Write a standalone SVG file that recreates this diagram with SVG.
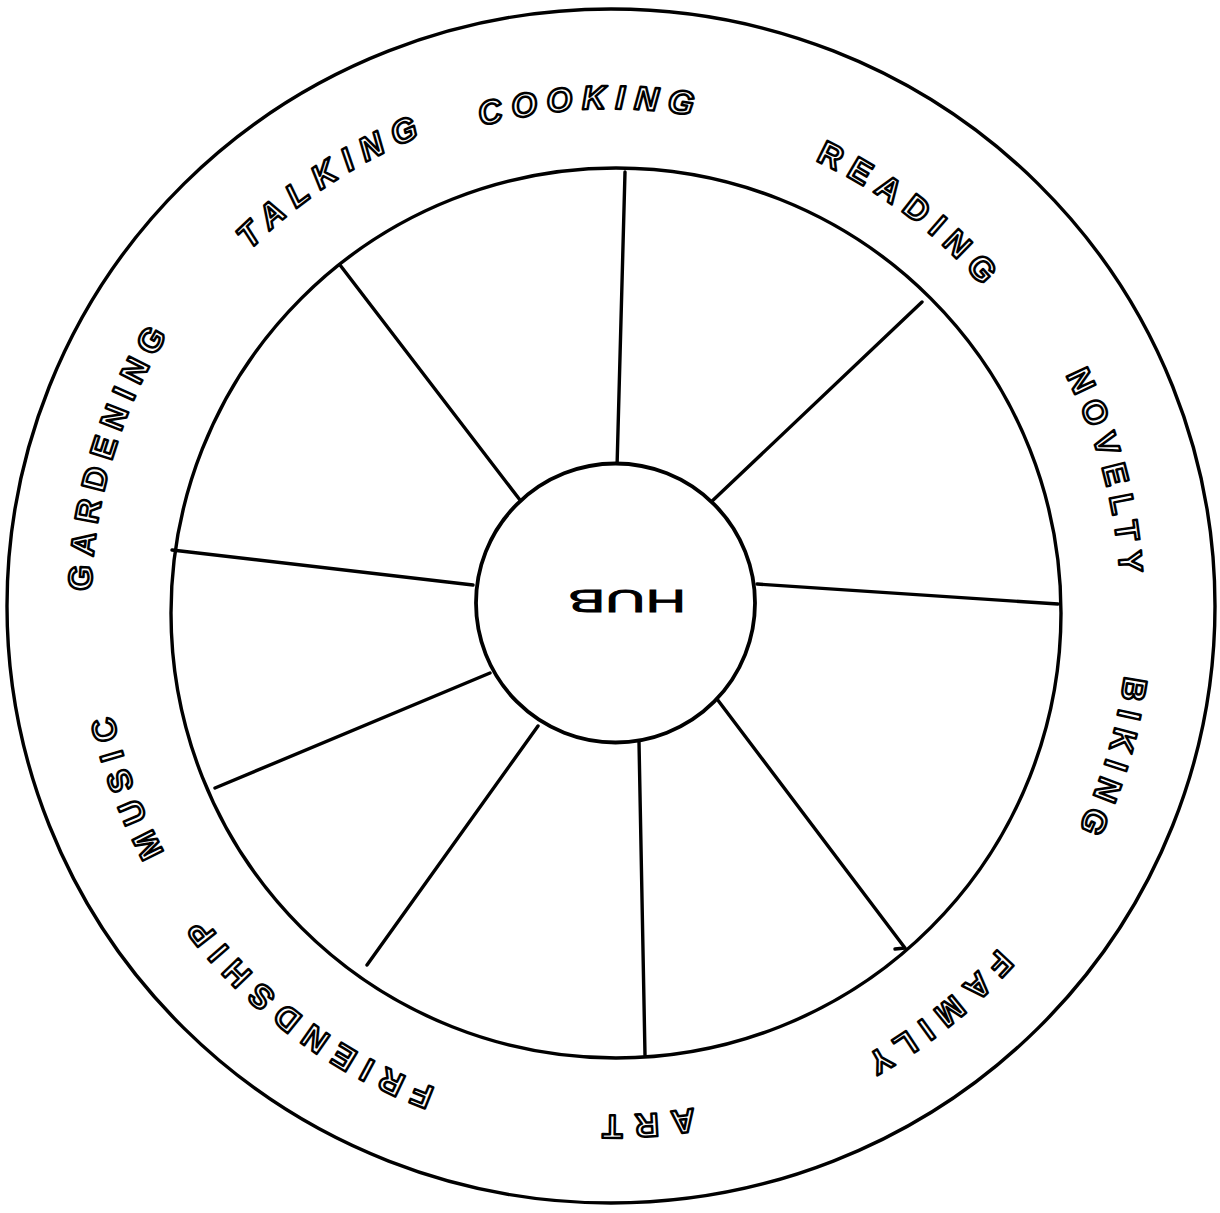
<svg xmlns="http://www.w3.org/2000/svg" width="1220" height="1213" viewBox="0 0 1220 1213">
<style>
.ring{fill:none;stroke:#000;stroke-width:3.4}
.spoke{stroke:#000;stroke-width:3.4;stroke-linecap:round;stroke-linejoin:round;fill:none}
.lbl{font-family:"Liberation Sans",Arial,sans-serif;font-weight:bold;font-size:33px;fill:#fff;stroke:#000;stroke-width:2.5;stroke-linejoin:round}
.it{font-style:italic}
.hubt{font-family:"Liberation Sans",Arial,sans-serif;font-size:31px;fill:#000;stroke:#000;stroke-width:0.8}
</style>
<defs>
<path id="c497" d="M114,606 A497,497 0 1 1 1108,606 A497,497 0 1 1 114,606"/>
<path id="c507" d="M104,606 A507,507 0 1 1 1118,606 A507,507 0 1 1 104,606"/>
<path id="c490" d="M121,606 A490,490 0 1 1 1101,606 A490,490 0 1 1 121,606"/>
<path id="c510" d="M101,606 A510,510 0 1 1 1121,606 A510,510 0 1 1 101,606"/>
<path id="c518" d="M93,606 A518,518 0 1 1 1129,606 A518,518 0 1 1 93,606"/>
<path id="c517" d="M94,606 A517,517 0 1 1 1128,606 A517,517 0 1 1 94,606"/>
<path id="c509" d="M102,606 A509,509 0 1 1 1120,606 A509,509 0 1 1 102,606"/>
<path id="c513" d="M98,606 A513,513 0 1 1 1124,606 A513,513 0 1 1 98,606"/>
<path id="c520" d="M91,606 A520,520 0 1 1 1131,606 A520,520 0 1 1 91,606"/>
</defs>
<rect width="1220" height="1213" fill="#fff"/>
<g id="wheel">
<ellipse class="ring" cx="611" cy="606" rx="604" ry="597"/>
<circle class="ring" cx="616" cy="613" r="445"/>
</g>
<g id="spokes">
<line class="spoke" x1="625" y1="172" x2="617" y2="468"/>
<line class="spoke" x1="922" y1="302" x2="709" y2="504"/>
<line class="spoke" x1="1058" y1="604" x2="757" y2="584"/>
<polyline class="spoke" points="717,699 905,948 895,949"/>
<line class="spoke" x1="645" y1="1055" x2="639" y2="742"/>
<line class="spoke" x1="367" y1="965" x2="538" y2="726"/>
<line class="spoke" x1="215" y1="788" x2="490" y2="673"/>
<line class="spoke" x1="172" y1="550" x2="473" y2="585"/>
<line class="spoke" x1="340" y1="265" x2="520" y2="500"/>
</g>
<g id="hub">
<circle cx="615.5" cy="603" r="139.5" fill="#fff" stroke="#000" stroke-width="3.8"/>
<text class="hubt" transform="translate(627,601) rotate(180) scale(1.8,1)" x="0" y="11" text-anchor="middle">HUB</text>
</g>
<g id="label-cooking" transform="rotate(-2.35 611 606)"><text class="lbl it" style="letter-spacing:9.2px" text-anchor="middle"><textPath href="#c497" startOffset="25%">COOKING</textPath></text></g>
<g id="label-talking" transform="rotate(-33.2 611 606)"><text class="lbl it" style="letter-spacing:10.3px" text-anchor="middle"><textPath href="#c507" startOffset="25%">TALKING</textPath></text></g>
<g id="label-reading" transform="rotate(37.5 611 606)"><text class="lbl" style="letter-spacing:9.7px" text-anchor="middle"><textPath href="#c490" startOffset="25%">READING</textPath></text></g>
<g id="label-novelty" transform="rotate(75.2 611 606)"><text class="lbl" style="letter-spacing:9px" text-anchor="middle"><textPath href="#c510" startOffset="25%">NOVELTY</textPath></text></g>
<g id="label-biking" transform="rotate(107.1 611 606)"><text class="lbl" style="letter-spacing:9px" text-anchor="middle"><textPath href="#c518" startOffset="25%">BIKING</textPath></text></g>
<g id="label-family" transform="rotate(141.6 611 606)"><text class="lbl" style="letter-spacing:10.8px" text-anchor="middle"><textPath href="#c517" startOffset="25%">FAMILY</textPath></text></g>
<g id="label-art" transform="rotate(176.5 611 606)"><text class="lbl" style="letter-spacing:12px" text-anchor="middle"><textPath href="#c509" startOffset="25%">ART</textPath></text></g>
<g id="label-friendship" transform="rotate(216.9 611 606)"><text class="lbl" style="letter-spacing:10.2px" text-anchor="middle"><textPath href="#c513" startOffset="25%">FRIENDSHIP</textPath></text></g>
<g id="label-music" transform="rotate(249.9 611 606)"><text class="lbl" style="letter-spacing:10px" text-anchor="middle"><textPath href="#c510" startOffset="25%">MUSIC</textPath></text></g>
<g id="label-gardening" transform="rotate(287 611 606)"><text class="lbl" style="letter-spacing:8.6px" text-anchor="middle"><textPath href="#c520" startOffset="25%">GARDENING</textPath></text></g>
</svg>
